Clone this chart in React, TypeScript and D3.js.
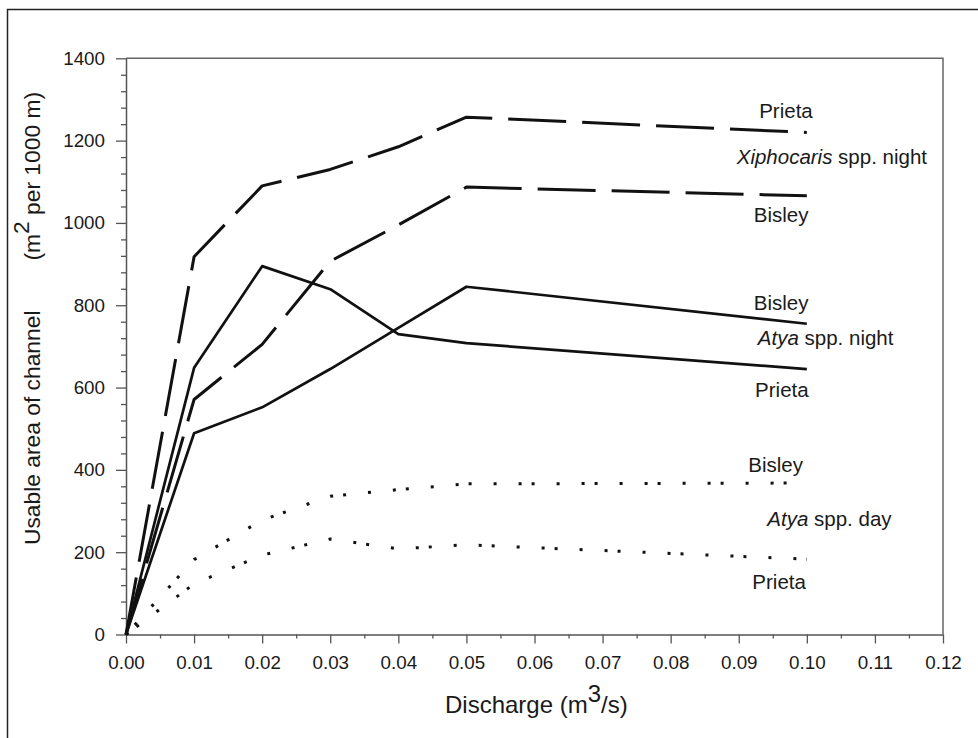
import React, { useRef, useEffect } from 'react';
import * as d3 from 'd3';

// discharge (m3/s) at which each curve was evaluated
const discharge = [0, 0.01, 0.02, 0.03, 0.04, 0.05, 0.1];

// usable area (m2 per 1000 m)
const xiphPrieta = [0, 918, 1090, 1130, 1185, 1257, 1220];
const xiphBisley = [0, 571, 705, 907, 995, 1087, 1066];
const atyaNightPrieta = [0, 648, 895, 839, 730, 708, 645];
const atyaNightBisley = [0, 489, 552, 645, 745, 845, 755];
const atyaDayBisley = [0, 182, 278, 336, 352, 366, 368];
const atyaDayPrieta = [0, 123, 193, 232, 208, 218, 183];

const xTicks = [0, 0.01, 0.02, 0.03, 0.04, 0.05, 0.06, 0.07, 0.08, 0.09, 0.1, 0.11, 0.12];
const yTicks = [0, 200, 400, 600, 800, 1000, 1200, 1400];

// curve labels: [italic part, plain part, x, y] in data units
const curveLabels: [string, string, number, number][] = [
  ['', 'Prieta', 0.093, 1255],
  ['Xiphocaris', ' spp. night', 0.0897, 1143],
  ['', 'Bisley', 0.0922, 1002],
  ['', 'Bisley', 0.0922, 788],
  ['Atya', ' spp. night', 0.0928, 703],
  ['', 'Prieta', 0.0924, 577],
  ['', 'Bisley', 0.0914, 395],
  ['Atya', ' spp. day', 0.0942, 264],
  ['', 'Prieta', 0.092, 111],
];

const W = 978;
const H = 738;
const FONT = "'Liberation Sans', Arial, sans-serif";

const App = () => {
  const svgRef = useRef<SVGSVGElement>(null);

  useEffect(() => {
    const svg = d3.select(svgRef.current);
    svg.selectAll('*').remove();

    const x = d3.scaleLinear().domain([0, 0.12]).range([126, 943]);
    const y = d3.scaleLinear().domain([0, 1400]).range([634.5, 58.3]);

    // outer frame (top + left only visible)
    svg.append('path')
      .attr('d', `M7.5,${H} V9.5 H${W}`)
      .attr('fill', 'none')
      .attr('stroke', '#222')
      .attr('stroke-width', 1.5);

    // plot box top and right
    svg.append('path')
      .attr('d', `M${x(0)},${y(1400)} H${x(0.12)} V${y(0)}`)
      .attr('fill', 'none')
      .attr('stroke', '#666')
      .attr('stroke-width', 1.5);

    // y axis, minor ticks every 40
    const yMinor = d3.range(0, 1401, 40).filter(v => v % 200 !== 0);
    svg.append('g')
      .attr('transform', `translate(${x(0)},0)`)
      .call(d3.axisLeft(y).tickValues(yMinor).tickSize(5).tickSizeOuter(0).tickFormat(() => ''))
      .call(g => g.select('.domain').remove());
    const yAxis = svg.append('g')
      .attr('transform', `translate(${x(0)},0)`)
      .call(d3.axisLeft(y).tickValues(yTicks).tickSize(10).tickSizeOuter(0).tickPadding(11).tickFormat(d3.format('d')));

    // x axis, minor ticks at half steps
    const xMinor = d3.range(0, 12).map(i => i / 100 + 0.005);
    svg.append('g')
      .attr('transform', `translate(0,${y(0)})`)
      .call(d3.axisBottom(x).tickValues(xMinor).tickSize(4).tickSizeOuter(0).tickFormat(() => ''))
      .call(g => g.select('.domain').remove());
    const xAxis = svg.append('g')
      .attr('transform', `translate(0,${y(0)})`)
      .call(d3.axisBottom(x).tickValues(xTicks).tickSize(9).tickSizeOuter(0).tickPadding(12).tickFormat(d3.format('.2f')));

    svg.selectAll('.tick line').attr('stroke', '#555').attr('stroke-width', 1.3);
    svg.selectAll('.domain').attr('stroke', '#555').attr('stroke-width', 1.5);
    [xAxis, yAxis].forEach(a => a.selectAll('text')
      .attr('font-family', FONT)
      .attr('font-size', 18.8)
      .attr('fill', '#1a1a1a'));

    // curves
    const line = d3.line<number>()
      .x((_, i) => x(discharge[i]))
      .y(d => y(d));

    const series = [
      { values: xiphPrieta, dash: '58 16', width: 3 },
      { values: xiphBisley, dash: '58 16', width: 3 },
      { values: atyaNightPrieta, dash: null, width: 2.7 },
      { values: atyaNightBisley, dash: null, width: 2.7 },
      { values: atyaDayBisley, dash: '3 10 3 22 3 22', width: 3 },
      { values: atyaDayPrieta, dash: '3 10 3 22 3 22', width: 3 },
    ];

    series.forEach(s => {
      const p = svg.append('path')
        .attr('d', line(s.values))
        .attr('fill', 'none')
        .attr('stroke', '#111')
        .attr('stroke-width', s.width)
        .attr('stroke-linejoin', 'round');
      if (s.dash) p.attr('stroke-dasharray', s.dash);
    });

    // curve labels
    curveLabels.forEach(([it, plain, lx, ly]) => {
      const t = svg.append('text')
        .attr('x', x(lx))
        .attr('y', y(ly))
        .attr('font-family', FONT)
        .attr('font-size', 20.5)
        .attr('fill', '#1a1a1a');
      if (it) t.append('tspan').attr('font-style', 'italic').text(it);
      t.append('tspan').text(plain);
    });

    // x axis title
    const xt = svg.append('text')
      .attr('x', 445)
      .attr('y', 713)
      .attr('font-family', FONT)
      .attr('font-size', 24)
      .attr('fill', '#1a1a1a');
    xt.append('tspan').text('Discharge (m');
    xt.append('tspan').attr('dy', -11).text('3');
    xt.append('tspan').attr('dy', 11).text('/s)');

    // y axis title
    const yt = svg.append('text')
      .attr('transform', 'translate(40,545) rotate(-90)')
      .attr('font-family', FONT)
      .attr('font-size', 22.8)
      .attr('fill', '#1a1a1a');
    yt.append('tspan').text('Usable area of channel');
    yt.append('tspan').attr('dx', 50).text('(m');
    yt.append('tspan').attr('dy', -11).text('2');
    yt.append('tspan').attr('dy', 11).text(' per 1000 m)');
  }, []);

  return (
    <svg
      ref={svgRef}
      width={W}
      height={H}
      style={{ position: 'absolute', left: 0, top: 0, background: '#fff' }}
    />
  );
};

export default App;
